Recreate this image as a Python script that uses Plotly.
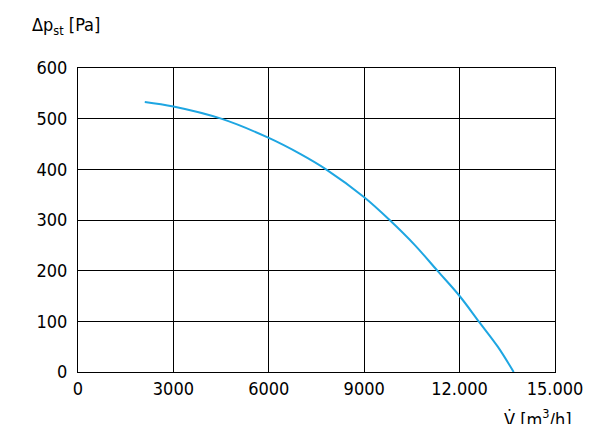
import plotly.graph_objects as go

# fan curve
flow = [2100, 3000, 4500, 6000, 7000, 7800, 9000, 9800, 10600, 11300, 12000, 12600, 13200, 13700]
pressure = [533, 524, 500, 462, 430, 400, 345, 300, 250, 200, 150, 100, 50, 0]

x_ticks = [0, 3000, 6000, 9000, 12000, 15000]
x_labels = ['0', '3000', '6000', '9000', '12.000', '15.000']
y_ticks = [0, 100, 200, 300, 400, 500, 600]

font = 'DejaVu Sans Condensed, Liberation Sans Narrow, Liberation Sans, sans-serif'

fig = go.Figure(go.Scatter(
    x=flow, y=pressure, mode='lines',
    line=dict(color='#1ea6e2', width=2, shape='spline'),
))

fig.update_layout(
    width=600, height=424,
    margin=dict(l=70, r=53, t=60, b=60, autoexpand=False),
    plot_bgcolor='white', paper_bgcolor='white',
    showlegend=False,
    font=dict(family=font, size=18, color='black'),
    xaxis=dict(range=[0, 15000], tickvals=x_ticks, ticktext=x_labels,
               showgrid=True, gridcolor='black', gridwidth=1,
               showline=True, linecolor='black', mirror=True,
               zeroline=False, ticks='', automargin=False, fixedrange=True),
    yaxis=dict(range=[0, 600], tickvals=y_ticks,
               showgrid=True, gridcolor='black', gridwidth=1,
               showline=True, linecolor='black', mirror=True,
               zeroline=False, ticks='', ticklabelstandoff=6,
               automargin=False, fixedrange=True),
    annotations=[
        dict(text='Δp<sub>st</sub> [Pa]', xref='paper', yref='paper',
             x=-0.10, y=1.138, xanchor='left', yanchor='middle',
             showarrow=False, font=dict(size=18)),
        dict(text='V̇ [m<sup>3</sup>/h]', xref='paper', yref='paper',
             x=0.964, y=-0.15, xanchor='center', yanchor='middle',
             showarrow=False, font=dict(size=18)),
    ],
)

fig.write_html('out.html')
